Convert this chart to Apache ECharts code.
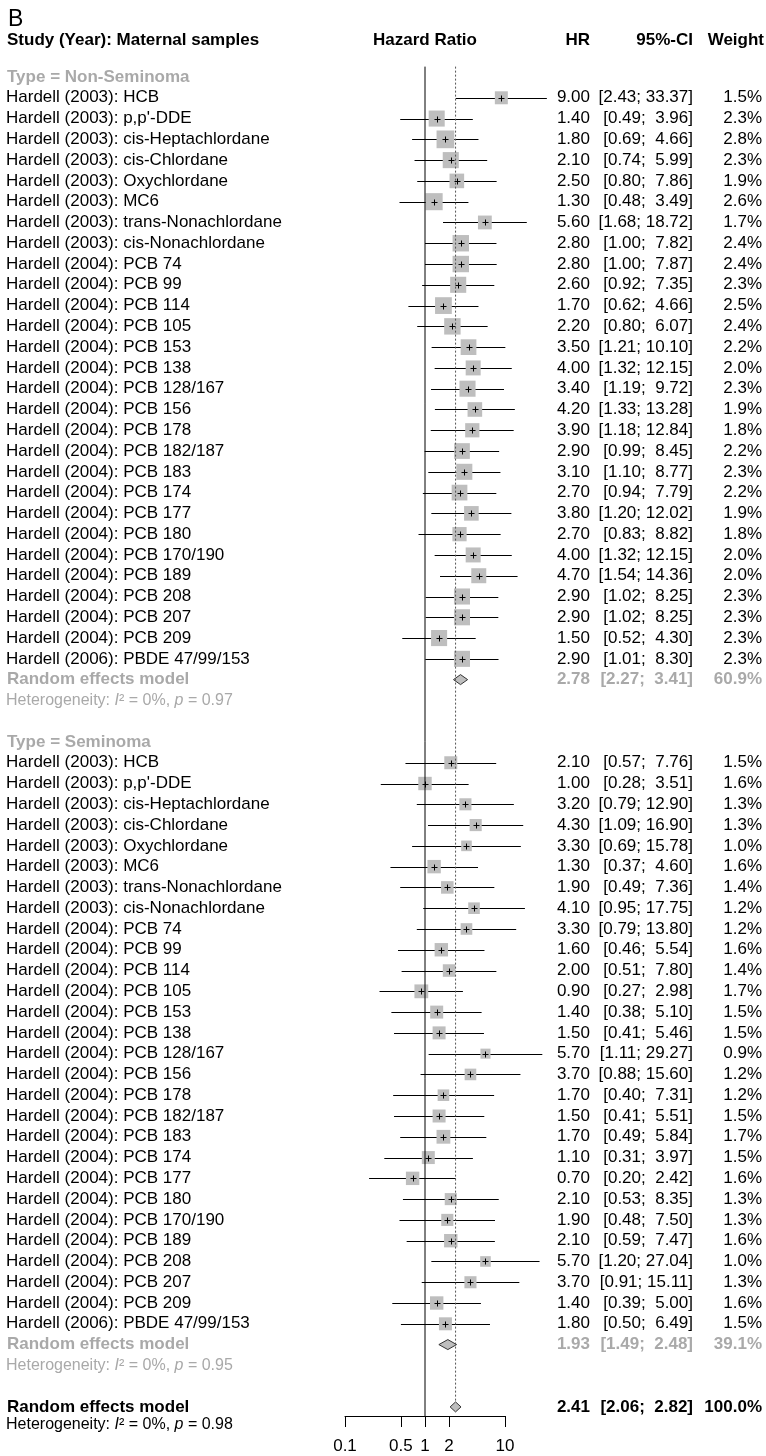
<!DOCTYPE html>
<html><head><meta charset="utf-8">
<script src="https://cdn.jsdelivr.net/npm/echarts@6/dist/echarts.min.js"></script>
<style>html,body{margin:0;padding:0;background:#fff}#c{width:766px;height:1456px}</style>
</head><body><div id="c"></div>
<script>
// ---------------- data ----------------
const studyLabels = [
  "Hardell (2003): HCB","Hardell (2003): p,p'-DDE","Hardell (2003): cis-Heptachlordane","Hardell (2003): cis-Chlordane",
  "Hardell (2003): Oxychlordane","Hardell (2003): MC6","Hardell (2003): trans-Nonachlordane","Hardell (2003): cis-Nonachlordane",
  "Hardell (2004): PCB 74","Hardell (2004): PCB 99","Hardell (2004): PCB 114","Hardell (2004): PCB 105",
  "Hardell (2004): PCB 153","Hardell (2004): PCB 138","Hardell (2004): PCB 128/167","Hardell (2004): PCB 156",
  "Hardell (2004): PCB 178","Hardell (2004): PCB 182/187","Hardell (2004): PCB 183","Hardell (2004): PCB 174",
  "Hardell (2004): PCB 177","Hardell (2004): PCB 180","Hardell (2004): PCB 170/190","Hardell (2004): PCB 189",
  "Hardell (2004): PCB 208","Hardell (2004): PCB 207","Hardell (2004): PCB 209","Hardell (2006): PBDE 47/99/153"
];
const groupLabels = ["Type = Non-Seminoma", "Type = Seminoma"];

const nsHR = [9.00,1.40,1.80,2.10,2.50,1.30,5.60,2.80,2.80,2.60,1.70,2.20,3.50,4.00,3.40,4.20,3.90,2.90,3.10,2.70,3.80,2.70,4.00,4.70,2.90,2.90,1.50,2.90];
const nsLo = [2.43,0.49,0.69,0.74,0.80,0.48,1.68,1.00,1.00,0.92,0.62,0.80,1.21,1.32,1.19,1.33,1.18,0.99,1.10,0.94,1.20,0.83,1.32,1.54,1.02,1.02,0.52,1.01];
const nsHi = [33.37,3.96,4.66,5.99,7.86,3.49,18.72,7.82,7.87,7.35,4.66,6.07,10.10,12.15,9.72,13.28,12.84,8.45,8.77,7.79,12.02,8.82,12.15,14.36,8.25,8.25,4.30,8.30];
const nsW  = [1.5,2.3,2.8,2.3,1.9,2.6,1.7,2.4,2.4,2.3,2.5,2.4,2.2,2.0,2.3,1.9,1.8,2.2,2.3,2.2,1.9,1.8,2.0,2.0,2.3,2.3,2.3,2.3];

const sHR = [2.10,1.00,3.20,4.30,3.30,1.30,1.90,4.10,3.30,1.60,2.00,0.90,1.40,1.50,5.70,3.70,1.70,1.50,1.70,1.10,0.70,2.10,1.90,2.10,5.70,3.70,1.40,1.80];
const sLo = [0.57,0.28,0.79,1.09,0.69,0.37,0.49,0.95,0.79,0.46,0.51,0.27,0.38,0.41,1.11,0.88,0.40,0.41,0.49,0.31,0.20,0.53,0.48,0.59,1.20,0.91,0.39,0.50];
const sHi = [7.76,3.51,12.90,16.90,15.78,4.60,7.36,17.75,13.80,5.54,7.80,2.98,5.10,5.46,29.27,15.60,7.31,5.51,5.84,3.97,2.42,8.35,7.50,7.47,27.04,15.11,5.00,6.49];
const sW  = [1.5,1.6,1.3,1.3,1.0,1.6,1.4,1.2,1.2,1.6,1.4,1.7,1.5,1.5,0.9,1.2,1.2,1.5,1.7,1.5,1.6,1.3,1.3,1.6,1.0,1.3,1.6,1.5];

// pooled: [Non-Seminoma, Seminoma, Overall]
const pooledLabel = ["Random effects model","Random effects model","Random effects model"];
const pooledHR = [2.78, 1.93, 2.41];
const pooledLo = [2.27, 1.49, 2.06];
const pooledHi = [3.41, 2.48, 2.82];
const pooledW  = [60.9, 39.1, 100.0];
const hetI2    = ["0%", "0%", "0%"];
const hetP     = ["0.97", "0.95", "0.98"];

const xTicks = [0.1, 0.5, 1, 2, 10];
const xTickLabels = ["0.1", "0.5", "1", "2", "10"];
const headers = ["Study (Year): Maternal samples", "Hazard Ratio", "HR", "95%-CI", "Weight"];

// ---------------- layout / style ----------------
const FONT = '"Liberation Sans", Arial, Helvetica, sans-serif';
const GREY = '#A9A9A9';
const FS = 17;
const ROW = 20.78;
const Y0 = 77;           // pixel of row 0
const AXIS_Y = 1416;     // pixel of x axis line
const yMin = -1.5;
const yMax = (AXIS_Y - Y0) / ROW;
const gridTop = Y0 + yMin * ROW;
const SQ = 10.6;         // square side per sqrt(weight)
const X_LABEL = 7, X_HR = 590, X_CI = 693, X_W = 762;

const f2 = v => v.toFixed(2);
const fCI = (lo, hi) => '[' + f2(lo) + '; ' + (hi < 10 ? ' ' : '') + f2(hi) + ']';
const fW = v => v.toFixed(1) + '%';

// row layout
const rows = [];
const studyData = [];
const diamondData = [];
function addGroup(g, start, HR, Lo, Hi, W) {
  rows.push({pos: start, kind: 'group', text: groupLabels[g]});
  HR.forEach((v, k) => {
    const pos = start + 1 + k;
    rows.push({pos, kind: 'study', text: studyLabels[k], hr: f2(v), ci: fCI(Lo[k], Hi[k]), w: fW(W[k])});
    studyData.push([v, pos, Lo[k], Hi[k], W[k]]);
  });
  const pp = start + HR.length + 1;
  rows.push({pos: pp, kind: 'pooled', grey: true, text: pooledLabel[g], hr: f2(pooledHR[g]), ci: fCI(pooledLo[g], pooledHi[g]), w: fW(pooledW[g])});
  rows.push({pos: pp + 1, kind: 'het', grey: true, i2: hetI2[g], p: hetP[g]});
  diamondData.push([pooledHR[g], pp, pooledLo[g], pooledHi[g]]);
}
addGroup(0, 0, nsHR, nsLo, nsHi, nsW);
addGroup(1, 32, sHR, sLo, sHi, sW);
rows.push({pos: 64, kind: 'pooled', grey: false, text: pooledLabel[2], hr: f2(pooledHR[2]), ci: fCI(pooledLo[2], pooledHi[2]), w: fW(pooledW[2])});
rows.push({pos: 64.87, kind: 'het', grey: false, i2: hetI2[2], p: hetP[2]});
diamondData.push([pooledHR[2], 64, pooledLo[2], pooledHi[2]]);
rows.push({pos: -1.78, kind: 'header'});

function txt(x, y, s, opts) {
  return {type: 'text', x, y, style: Object.assign({
    text: s, fontSize: FS, fontFamily: FONT, fill: '#000', verticalAlign: 'middle', align: 'left'
  }, opts || {})};
}

function renderText(params, api) {
  const r = rows[params.dataIndex];
  const y = api.coord([1, r.pos])[1];
  const ch = [];
  if (r.kind === 'header') {
    ch.push(txt(X_LABEL, y, headers[0], {fontWeight: 'bold'}));
    ch.push(txt(api.coord([1, 0])[0], y, headers[1], {fontWeight: 'bold', align: 'center'}));
    ch.push(txt(X_HR, y, headers[2], {fontWeight: 'bold', align: 'right'}));
    ch.push(txt(X_CI, y, headers[3], {fontWeight: 'bold', align: 'right'}));
    ch.push(txt(X_W + 2, y, headers[4], {fontWeight: 'bold', align: 'right'}));
  } else if (r.kind === 'group') {
    ch.push(txt(X_LABEL, y, r.text, {fontWeight: 'bold', fill: GREY}));
  } else if (r.kind === 'study') {
    ch.push(txt(X_LABEL - 1, y, r.text));
    ch.push(txt(X_HR, y, r.hr, {align: 'right'}));
    ch.push(txt(X_CI, y, r.ci, {align: 'right'}));
    ch.push(txt(X_W, y, r.w, {align: 'right'}));
  } else if (r.kind === 'pooled') {
    const o = {fontWeight: 'bold', fill: r.grey ? GREY : '#000'};
    ch.push(txt(X_LABEL, y, r.text, o));
    ch.push(txt(X_HR, y, r.hr, Object.assign({align: 'right'}, o)));
    ch.push(txt(X_CI, y, r.ci, Object.assign({align: 'right'}, o)));
    ch.push(txt(X_W, y, r.w, Object.assign({align: 'right'}, o)));
  } else if (r.kind === 'het') {
    const col = r.grey ? GREY : '#000';
    const base = {fontSize: 16, fontFamily: FONT, fill: col};
    ch.push({type: 'text', x: X_LABEL - 1, y, style: {
      text: '{a|Heterogeneity: }{b|I}{a|² = ' + r.i2 + ', }{b|p}{a| = ' + r.p + '}',
      verticalAlign: 'middle', align: 'left', fontSize: 16, fontFamily: FONT, fill: col,
      rich: {a: base, b: Object.assign({fontStyle: 'italic'}, base)}
    }});
  }
  return {type: 'group', children: ch};
}

function renderStudy(params, api) {
  const c = api.coord([api.value(0), api.value(1)]);
  const pl = api.coord([api.value(2), api.value(1)]);
  const ph = api.coord([api.value(3), api.value(1)]);
  const s = SQ * Math.sqrt(api.value(4));
  const y = Math.round(c[1]) + 0.5;
  const x = Math.round(c[0]) + 0.5;
  return {type: 'group', children: [
    {type: 'line', shape: {x1: pl[0], y1: y, x2: ph[0], y2: y}, style: {stroke: '#000', lineWidth: 1}},
    {type: 'rect', shape: {x: c[0] - s / 2, y: c[1] - s / 2, width: s, height: s}, style: {fill: '#BEBEBE'}},
    {type: 'line', shape: {x1: x - 3, y1: y, x2: x + 3, y2: y}, style: {stroke: '#000', lineWidth: 1}},
    {type: 'line', shape: {x1: x, y1: y - 3, x2: x, y2: y + 3}, style: {stroke: '#000', lineWidth: 1}}
  ]};
}

function renderDiamond(params, api) {
  const c = api.coord([api.value(0), api.value(1)]);
  const pl = api.coord([api.value(2), api.value(1)]);
  const ph = api.coord([api.value(3), api.value(1)]);
  const h = 5;
  return {type: 'polygon', shape: {points: [[pl[0], c[1]], [c[0], c[1] - h], [ph[0], c[1]], [c[0], c[1] + h]]},
    style: {fill: '#BEBEBE', stroke: '#333', lineWidth: 1}};
}

function renderTick(params, api) {
  const p = api.coord([api.value(0), yMax]);
  const x = Math.round(p[0]) + 0.5;
  return {type: 'group', children: [
    {type: 'line', shape: {x1: x, y1: AXIS_Y, x2: x, y2: AXIS_Y + 11}, style: {stroke: '#000', lineWidth: 1}},
    txt(p[0], AXIS_Y + 30, xTickLabels[params.dataIndex], {align: 'center'})
  ]};
}

const chart = echarts.init(document.getElementById('c'), null, {renderer: 'canvas'});
chart.setOption({
  animation: false,
  backgroundColor: '#fff',
  title: {text: 'B', left: 3, top: 3, textStyle: {fontSize: 23, fontWeight: 'normal', fontFamily: FONT, color: '#000'}},
  grid: {left: 345, right: 766 - 505, top: gridTop, bottom: 1456 - AXIS_Y},
  xAxis: {type: 'log', logBase: 10, min: 0.1, max: 10, position: 'bottom',
    axisLine: {show: true, onZero: false, lineStyle: {color: '#000', width: 1}},
    axisTick: {show: false}, axisLabel: {show: false}, splitLine: {show: false}},
  yAxis: {type: 'value', inverse: true, min: yMin, max: yMax, show: false, splitLine: {show: false},
    axisLine: {onZero: false}},
  series: [
    {type: 'line', data: [[1, -0.5], [1, yMax]], symbol: 'none', clip: false,
      lineStyle: {color: '#000', width: 1}, silent: true},
    {type: 'line', data: [[pooledHR[2], -0.5], [pooledHR[2], 64 - 0.27]], symbol: 'none', clip: false,
      lineStyle: {color: '#555', width: 1, type: [2, 2]}, silent: true},
    {type: 'custom', data: studyData, encode: {x: 0, y: 1}, renderItem: renderStudy, clip: false, silent: true},
    {type: 'custom', data: diamondData, encode: {x: 0, y: 1}, renderItem: renderDiamond, clip: false, silent: true},
    {type: 'custom', data: xTicks.map(v => [v, yMax]), encode: {x: 0, y: 1}, renderItem: renderTick, clip: false, silent: true},
    {type: 'custom', data: rows.map(r => [1, r.pos]), encode: {x: 0, y: 1}, renderItem: renderText, clip: false, silent: true}
  ]
});
</script></body></html>
